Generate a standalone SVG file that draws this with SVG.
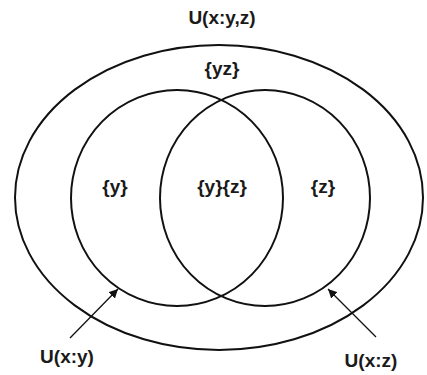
<svg xmlns="http://www.w3.org/2000/svg" width="427" height="375" viewBox="0 0 427 375">
<style>
.shape{fill:none;stroke:#111;stroke-width:2}
.lbl{font-family:"Liberation Sans",Arial,sans-serif;font-weight:bold;font-size:19px;fill:#1a1a1a;text-anchor:middle}
.arr{stroke:#111;stroke-width:1.3;fill:none;marker-end:url(#ah)}
</style>
<defs>
<marker id="ah" viewBox="0 0 10 10" refX="10" refY="5" markerWidth="9" markerHeight="9" markerUnits="userSpaceOnUse" orient="auto">
<path d="M0,0 L10,5 L0,10 Z" fill="#111"/>
</marker>
</defs>
<rect width="427" height="375" fill="#fff"/>
<g id="outer">
<ellipse class="shape" cx="219" cy="197.5" rx="204" ry="152.5"/>
<text class="lbl" x="222" y="24">U(x:y,z)</text>
<text class="lbl" x="222" y="75">{yz}</text>
</g>
<g id="left">
<ellipse class="shape" cx="177" cy="198" rx="106" ry="108"/>
<text class="lbl" x="115" y="193">{y}</text>
</g>
<g id="right">
<ellipse class="shape" cx="265" cy="198" rx="105" ry="108"/>
<text class="lbl" x="323" y="193">{z}</text>
</g>
<g id="overlap">
<text class="lbl" x="222" y="193">{y}{z}</text>
</g>
<g id="connectors">
<line class="arr" x1="70" y1="338" x2="118" y2="289"/>
<line class="arr" x1="376" y1="337" x2="328" y2="289"/>
</g>
<g id="label-xy">
<text class="lbl" x="67" y="363">U(x:y)</text>
</g>
<g id="label-xz">
<text class="lbl" x="371" y="367">U(x:z)</text>
</g>
</svg>
